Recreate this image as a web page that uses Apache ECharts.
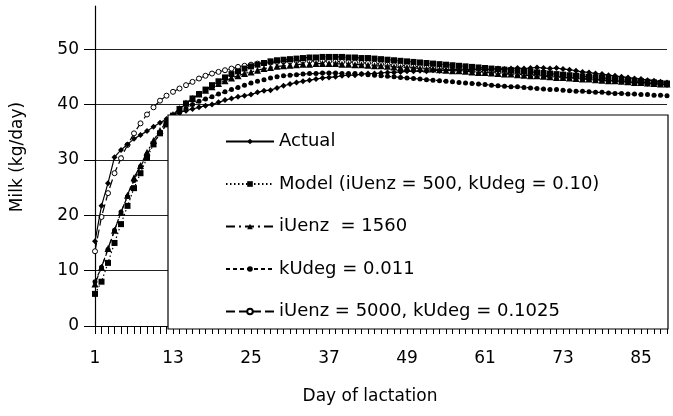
<!DOCTYPE html>
<html><head><meta charset="utf-8">
<script src="https://cdn.jsdelivr.net/npm/echarts@6/dist/echarts.min.js"></script>
<style>html,body{margin:0;padding:0;background:#fff}#c{width:673px;height:416px}</style>
</head><body><div id="c"></div>
<script>
const days = [1,2,3,4,5,6,7,8,9,10,11,12,13,14,15,16,17,18,19,20,21,22,23,24,25,26,27,28,29,30,
31,32,33,34,35,36,37,38,39,40,41,42,43,44,45,46,47,48,49,50,51,52,53,54,55,56,57,58,59,60,
61,62,63,64,65,66,67,68,69,70,71,72,73,74,75,76,77,78,79,80,81,82,83,84,85,86,87,88,89];
const yTicks = [0,10,20,30,40,50];
const actual = [15.3,21.7,25.8,30.5,31.8,32.8,33.8,34.5,35.2,36.0,
36.7,37.4,38.0,38.6,38.9,39.2,39.5,39.8,40.0,40.4,
40.8,41.1,41.4,41.6,41.8,42.2,42.5,42.6,43.0,43.4,
43.7,44.0,44.2,44.4,44.6,44.8,44.9,45.0,45.2,45.3,
45.3,45.5,45.6,45.6,45.7,45.8,45.8,45.9,46.0,46.0,
46.1,46.0,46.2,46.1,46.2,46.3,46.2,46.3,46.3,46.4,
46.3,46.4,46.5,46.4,46.5,46.6,46.5,46.6,46.7,46.6,
46.5,46.6,46.4,46.3,46.1,45.9,45.8,45.6,45.5,45.3,
45.2,45.0,44.9,44.7,44.6,44.4,44.3,44.1,44.0];
const model = [5.8,8.0,11.4,15.0,18.4,21.7,24.9,27.6,30.4,32.8,
34.8,36.5,38.0,39.2,40.2,41.1,41.9,42.7,43.5,44.2,
44.9,45.5,46.0,46.5,46.9,47.2,47.5,47.8,48.0,48.1,
48.2,48.3,48.4,48.5,48.5,48.6,48.6,48.6,48.6,48.5,
48.5,48.4,48.4,48.3,48.2,48.1,48.0,47.9,47.8,47.7,
47.6,47.5,47.4,47.3,47.2,47.1,47.0,46.9,46.8,46.7,
46.6,46.5,46.4,46.3,46.2,46.1,46.0,45.9,45.8,45.7,
45.6,45.5,45.4,45.3,45.2,45.1,45.0,44.9,44.8,44.7,
44.6,44.5,44.4,44.3,44.2,44.1,44.0,43.9,43.8];
const iuenz1560 = [7.6,10.6,14.0,17.3,20.5,23.6,26.8,29.0,31.4,33.5,
35.3,36.9,38.2,39.3,40.3,41.1,41.9,42.6,43.2,43.8,
44.3,44.8,45.2,45.6,45.9,46.2,46.5,46.7,46.9,47.0,
47.1,47.2,47.3,47.3,47.4,47.4,47.4,47.4,47.3,47.3,
47.2,47.2,47.1,47.0,47.0,46.9,46.8,46.7,46.7,46.6,
46.5,46.4,46.4,46.3,46.2,46.1,46.1,46.0,45.9,45.8,
45.8,45.7,45.6,45.5,45.5,45.4,45.3,45.2,45.2,45.1,
45.0,44.9,44.9,44.8,44.7,44.6,44.6,44.5,44.4,44.3,
44.3,44.2,44.1,44.0,44.0,43.9,43.8,43.7,43.7];
const kudeg011 = [8.0,10.6,13.8,17.3,20.6,23.4,26.3,28.8,31.0,33.0,
34.8,36.3,37.6,38.5,39.3,40.0,40.6,41.0,41.4,41.9,
42.3,42.7,43.1,43.5,43.9,44.2,44.5,44.8,45.0,45.2,
45.3,45.4,45.5,45.6,45.6,45.7,45.7,45.7,45.6,45.6,
45.6,45.5,45.4,45.3,45.2,45.1,45.0,44.9,44.8,44.7,
44.6,44.5,44.4,44.3,44.2,44.1,44.0,43.9,43.8,43.7,
43.6,43.5,43.4,43.3,43.2,43.2,43.1,43.0,42.9,42.8,
42.7,42.7,42.6,42.5,42.4,42.4,42.3,42.2,42.2,42.1,
42.0,42.0,41.9,41.9,41.8,41.8,41.7,41.7,41.6];
const iuenz5000 = [13.5,19.7,24.0,27.6,30.3,32.7,34.8,36.6,38.2,39.5,
40.7,41.6,42.3,42.9,43.5,44.1,44.7,45.2,45.6,45.9,
46.2,46.5,46.8,47.0,47.2,47.4,47.5,47.6,47.7,47.8,
47.8,47.9,47.9,47.9,47.9,47.9,47.8,47.8,47.7,47.7,
47.6,47.5,47.5,47.4,47.3,47.2,47.1,47.1,47.0,46.9,
46.8,46.7,46.6,46.6,46.5,46.4,46.3,46.2,46.1,46.0,
45.9,45.9,45.8,45.7,45.6,45.5,45.4,45.3,45.3,45.2,
45.1,45.0,44.9,44.8,44.8,44.7,44.6,44.5,44.4,44.3,
44.3,44.2,44.1,44.0,43.9,43.8,43.8,43.7,43.6];
const names = ['Actual','Model (iUenz = 500, kUdeg = 0.10)','iUenz  = 1560','kUdeg = 0.011','iUenz = 5000, kUdeg = 0.1025'];

const FONT = 'DejaVu Sans, sans-serif';
const chart = echarts.init(document.getElementById('c'), null, {renderer:'canvas'});
const blk = '#000';
function ser(name, data, symbol, size, lineType, fill, z){
  return {name, type:'line', data, symbol, symbolSize:size, showAllSymbol:true,
    z, animation:false,
    lineStyle:{color:blk, width:1.2, type:lineType},
    itemStyle:{color:fill, borderColor:blk, borderWidth: fill==='#fff'?1:0}};
}
chart.setOption({
  animation:false,
  backgroundColor:'#fff',
  grid:{left:95, right:6, top:6, bottom:90},
  xAxis:{type:'category', data:days, boundaryGap:false,
    axisLine:{lineStyle:{color:blk, width:1.2}},
    axisTick:{show:true, interval:0, length:8, lineStyle:{color:blk, width:1}},
    axisLabel:{interval:11, margin:24, fontFamily:FONT, fontSize:17, color:'#000'},
    splitLine:{show:false}},
  yAxis:{type:'value', min:0, max:57.8, interval:10,
    axisLine:{show:true, lineStyle:{color:blk, width:1.2}},
    axisTick:{show:true, length:11, customValues:yTicks, lineStyle:{color:blk, width:1}},
    axisLabel:{fontFamily:FONT, fontSize:17, color:'#000', margin:16, customValues:yTicks},
    splitLine:{show:true, lineStyle:{color:'#222', width:1.2}}},
  legend:{orient:'vertical', left:220, top:127, itemWidth:48, itemHeight:7, itemGap:23.5, z:20,
    data:names, selectedMode:false,
    textStyle:{fontFamily:FONT, fontSize:18, color:'#000', lineHeight:19}},
  graphic:[
    {type:'rect', z:15, shape:{x:168, y:115, width:500, height:214},
      style:{fill:'#fff', stroke:'#000', lineWidth:1.2}},
    {type:'text', z:15, x:18, y:157, rotation:Math.PI/2,
      style:{text:'Milk (kg/day)', fontFamily:FONT, fontSize:17, fill:'#000', align:'center', verticalAlign:'middle'}},
    {type:'text', z:15, x:370, y:397,
      style:{text:'Day of lactation', fontFamily:FONT, fontSize:17, fill:'#000', align:'center', verticalAlign:'middle'}}
  ],
  series:[
    ser(names[4], iuenz5000, 'circle', 5, [9,4], '#fff', 2),
    ser(names[3], kudeg011, 'circle', 5, [4,3], blk, 3),
    ser(names[2], iuenz1560, 'triangle', 7, [9,4,2,4], blk, 4),
    ser(names[0], actual, 'diamond', 6, 'solid', blk, 5),
    ser(names[1], model, 'rect', 6, [1.5,2.5], blk, 6)
  ]
});
</script></body></html>
